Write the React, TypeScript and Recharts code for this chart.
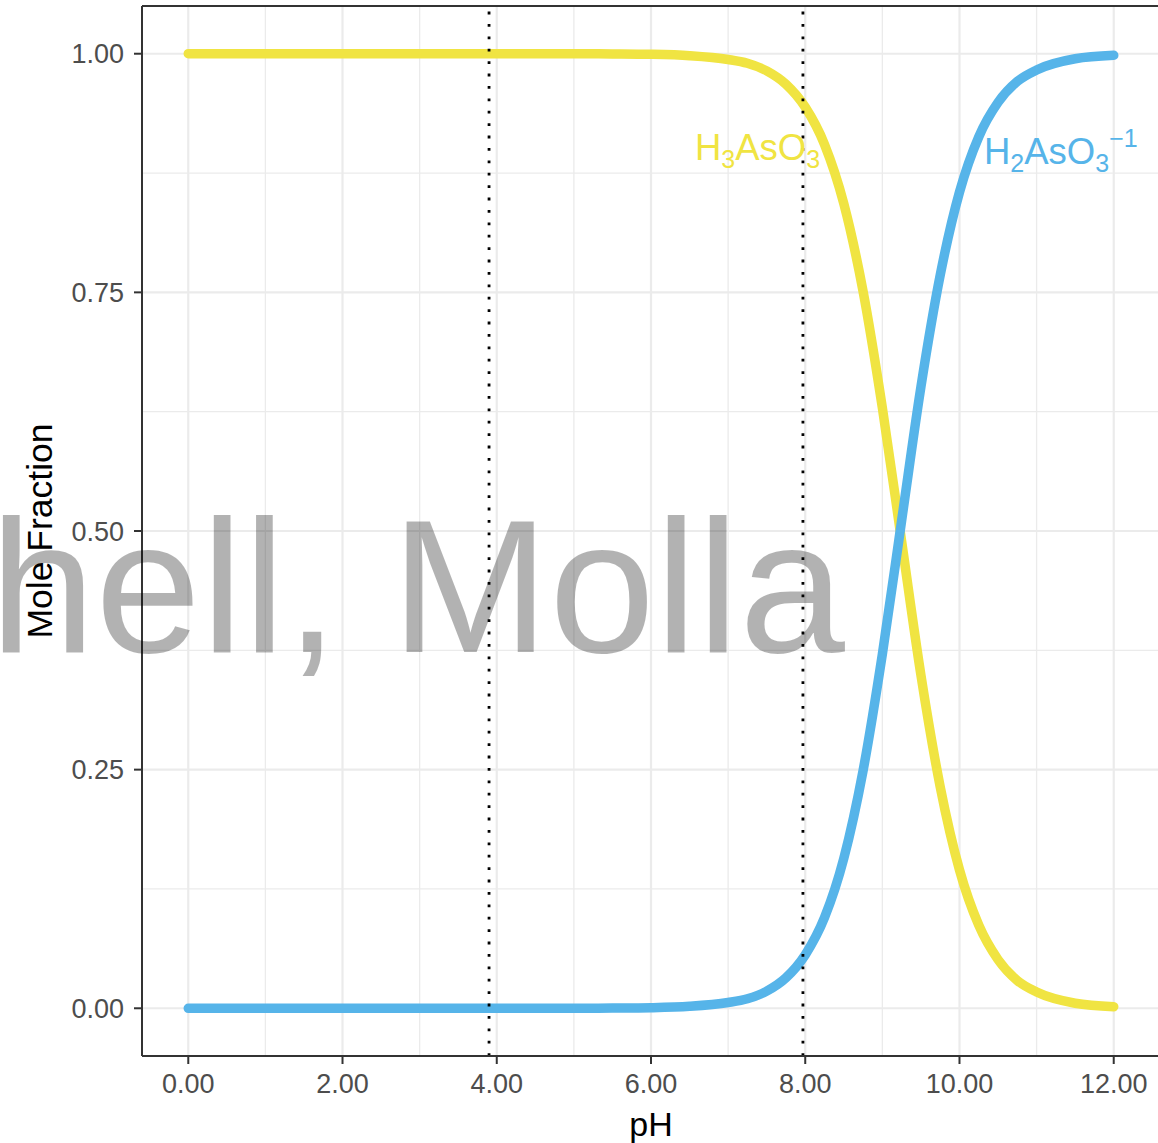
import { LineChart, Line, XAxis, YAxis, CartesianGrid, ReferenceLine } from "recharts";

const YELLOW = "#F0E442";
const BLUE = "#56B4E9";
const GRID = "#ebebeb";
const AXIS = "#333333";
const FONT = "'Liberation Sans', Arial, sans-serif";

// pH values
const pH = [0, 1, 2, 3, 4, 5, 5.5, 6, 6.5, 7, 7.25, 7.5, 7.75, 8, 8.25, 8.5, 8.75, 9, 9.25, 9.5, 9.75, 10, 10.25, 10.5, 10.75, 11, 11.5, 12];
const h3aso3 = [1, 1, 1, 1, 1, 1, 0.9998, 0.9994, 0.998, 0.994, 0.99, 0.982, 0.968, 0.944, 0.905, 0.843, 0.751, 0.629, 0.489, 0.349, 0.232, 0.145, 0.087, 0.051, 0.029, 0.017, 0.0053, 0.0017];
const h2aso3 = [0, 0, 0, 0, 0, 0, 0.0002, 0.0006, 0.002, 0.006, 0.01, 0.018, 0.032, 0.056, 0.095, 0.157, 0.249, 0.371, 0.511, 0.651, 0.768, 0.855, 0.913, 0.949, 0.971, 0.983, 0.9947, 0.9983];

const xTicks = [0, 2, 4, 6, 8, 10, 12];
const xMinor = [1, 3, 5, 7, 9, 11];
const yTicks = [0, 0.25, 0.5, 0.75, 1];
const yMinor = [0.125, 0.375, 0.625, 0.875];
const markers = [3.9, 7.97];

const data = pH.map((p, i) => ({ pH: p, h3: h3aso3[i], h2: h2aso3[i] }));

export default function App() {
  const tick = { fill: "#4d4d4d", fontSize: 27, fontFamily: FONT };
  return (
    <div style={{ position: "absolute", left: 0, top: 0, width: 1158, height: 1143, overflow: "hidden", background: "#fff" }}>
      <LineChart width={1160} height={1143} data={data} margin={{ top: 6, right: 0, bottom: 0, left: 0 }}>
        <CartesianGrid stroke={GRID} strokeWidth={1.3} horizontalValues={yMinor} verticalValues={xMinor} />
        <CartesianGrid stroke={GRID} strokeWidth={2.2} horizontalValues={yTicks} verticalValues={xTicks} />
        <XAxis
          dataKey="pH"
          type="number"
          domain={[-0.6, 12.6]}
          ticks={xTicks}
          tickFormatter={(v: number) => v.toFixed(2)}
          height={87}
          tick={tick}
          tickSize={8}
          tickMargin={10}
          axisLine={{ stroke: AXIS, strokeWidth: 2 }}
          tickLine={{ stroke: AXIS, strokeWidth: 2 }}
        />
        <YAxis
          type="number"
          domain={[-0.05, 1.05]}
          ticks={yTicks}
          tickFormatter={(v: number) => v.toFixed(2)}
          width={142}
          tick={tick}
          tickSize={8}
          tickMargin={10}
          axisLine={{ stroke: AXIS, strokeWidth: 2 }}
          tickLine={{ stroke: AXIS, strokeWidth: 2 }}
        />
        <ReferenceLine y={1.05} stroke={AXIS} strokeWidth={2} />
        <Line type="monotone" dataKey="h3" stroke={YELLOW} strokeWidth={9.5} strokeLinecap="round" dot={false} isAnimationActive={false} />
        <Line type="monotone" dataKey="h2" stroke={BLUE} strokeWidth={9.5} strokeLinecap="round" dot={false} isAnimationActive={false} />
        {markers.map((m) => (
          <ReferenceLine key={m} x={m} stroke="#000" strokeWidth={2.8} strokeDasharray="2.8 9.6" />
        ))}
      </LineChart>
      <svg width={1158} height={1143} style={{ position: "absolute", left: 0, top: 0, pointerEvents: "none" }}>
        <text x={695} y={160} fill={YELLOW} fontFamily={FONT} fontSize={36.5}>
          H<tspan fontSize={25} dy={8}>3</tspan>
          <tspan dy={-8}>AsO</tspan>
          <tspan fontSize={25} dy={8}>3</tspan>
        </text>
        <text x={984} y={164} fill={BLUE} fontFamily={FONT} fontSize={36.5}>
          H<tspan fontSize={25} dy={8}>2</tspan>
          <tspan dy={-8}>AsO</tspan>
          <tspan fontSize={25} dy={8}>3</tspan>
          <tspan fontSize={25} dy={-25}>−1</tspan>
        </text>
        <text x={651} y={1136} textAnchor="middle" fill="#000" fontFamily={FONT} fontSize={34}>pH</text>
        <text x={52} y={531} textAnchor="middle" transform="rotate(-90 52 531)" fill="#000" fontFamily={FONT} fontSize={35.5}>Mole Fraction</text>
        <text x={845} y={652} textAnchor="end" fill="#000" fillOpacity={0.3} fontFamily={FONT} fontSize={190}>hell, Molla</text>
      </svg>
    </div>
  );
}
